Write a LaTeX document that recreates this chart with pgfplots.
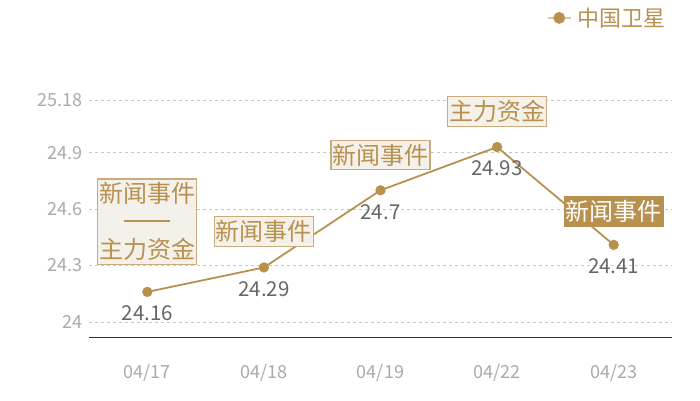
\documentclass[border=0pt]{standalone}
\usepackage{pgfplots}
\pgfplotsset{compat=1.18}
\usepackage{fontspec}
\setmainfont{Noto Sans CJK SC}
\definecolor{gold}{HTML}{B8914F}
\definecolor{lightgold}{HTML}{DCC7A4}
\definecolor{boxfill}{HTML}{F4F0EA}
\definecolor{boxline}{HTML}{C9AB7E}
\definecolor{ticktext}{HTML}{AAAAAA}
\definecolor{valtext}{HTML}{666666}
\begin{document}
\begin{tikzpicture}[x=1pt,y=1pt]
\useasboundingbox (0,0) rectangle (700,400);
\begin{axis}[
    at={(89pt,62.7pt)}, anchor=south west,
    scale only axis,
    width=583pt, height=237.3pt,
    clip=false,
    xmin=-0.5, xmax=4.5,
    ymin=23.9187, ymax=25.18,
    xtick={0,1,2,3,4},
    xticklabels={04/17,04/18,04/19,04/22,04/23},
    ytick={24,24.3,24.6,24.9,25.18},
    yticklabels={24,24.3,24.6,24.9,25.18},
    /pgf/number format/assume math mode=true,
    axis x line*=bottom, axis y line*=left,
    y axis line style={draw=none},
    x axis line style={draw=black!80, line width=0.9pt, -},
    major tick length=0pt,
    ymajorgrids,
    grid style={dashed, draw=black!22, line width=0.5pt},
    tick label style={font=\fontsize{18}{18}\selectfont, text=ticktext},
    xticklabel style={yshift=-23pt},
    yticklabel style={xshift=-3pt},
    legend style={draw=none, fill=none, at={(axis description cs:0.998,1.346)},
        anchor=east, font=\fontsize{22}{22}\selectfont, text=gold,
        /tikz/every odd column/.append style={column sep=4pt}},
    legend image code/.code={
        \draw[lightgold, line width=1.8pt] (0pt,0pt) -- (23pt,0pt);
        \fill[gold] (11.5pt,0pt) circle (5pt);},
    nodes near coords={\pgfmathprintnumber{\pgfplotspointmeta}},
    every node near coord/.append style={anchor=north, yshift=-13pt,
        font=\fontsize{20.5}{20.5}\selectfont, text=valtext, inner sep=0pt},
]
\addplot[gold, line width=1.8pt, mark=*, mark size=4.2pt,
    mark options={fill=gold, draw=gold}]
    coordinates {(0,24.16) (1,24.29) (2,24.7) (3,24.93) (4,24.41)};
\addlegendentry{中国卫星}

\tikzset{ann/.style={draw=boxline, fill=boxfill, text=gold, line width=1.2pt,
    font=\fontsize{24}{28}\selectfont, inner xsep=1.5pt, inner ysep=3.5pt, align=center}}
\node[ann] at (axis cs:0,24.534) {新闻事件\\\rule[0.38em]{46pt}{1.3pt}\\主力资金};
\node[ann] at (axis cs:1,24.481) {新闻事件};
\node[ann] at (axis cs:2,24.888) {新闻事件};
\node[ann] at (axis cs:3,25.119) {主力资金};
\node[ann, fill=gold, draw=gold, text=white] at (axis cs:4,24.587) {新闻事件};
\end{axis}
\end{tikzpicture}
\end{document}
